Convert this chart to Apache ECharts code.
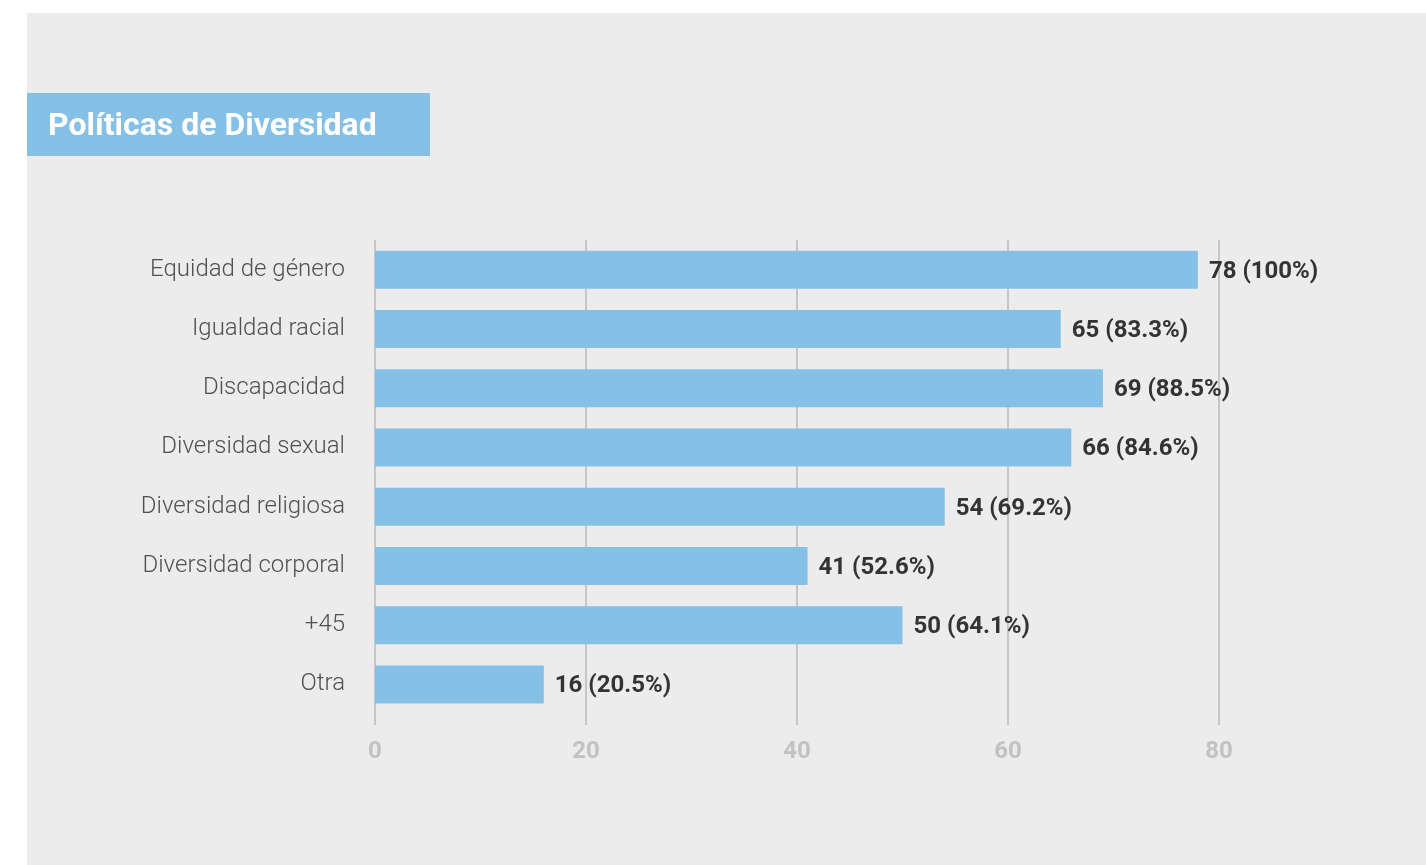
<!DOCTYPE html>
<html>
<head>
<meta charset="utf-8">
<script src="https://cdn.jsdelivr.net/npm/echarts@6/dist/echarts.min.js"></script>
<style>
  html, body { margin: 0; padding: 0; background: #ffffff; }
  #chart { width: 1426px; height: 865px; }
</style>
</head>
<body>
<div id="chart"></div>
<script>
// Diversity policies: number of organisations per policy and share of total
const categories = [
  'Equidad de género',
  'Igualdad racial',
  'Discapacidad',
  'Diversidad sexual',
  'Diversidad religiosa',
  'Diversidad corporal',
  '+45',
  'Otra'
];
const counts = [78, 65, 69, 66, 54, 41, 50, 16];
const shares = ['100%', '83.3%', '88.5%', '84.6%', '69.2%', '52.6%', '64.1%', '20.5%'];
const axisTicks = [0, 20, 40, 60, 80];

const FONT = 'Roboto, "Noto Sans", sans-serif';
const BAR = '#85c1e7';
const RULE = '#c6c6c6';

const chart = echarts.init(document.getElementById('chart'), null, { renderer: 'canvas' });

chart.setOption({
  backgroundColor: '#ffffff',
  animation: false,
  graphic: [
    { type: 'rect', z: -10, silent: true,
      shape: { x: 27, y: 13, width: 1399, height: 852 },
      style: { fill: '#ececec' } },
    { type: 'rect', z: -9, silent: true,
      shape: { x: 27, y: 93, width: 403, height: 63 },
      style: { fill: BAR } },
    { type: 'text', z: 10, silent: true,
      x: 48, y: 127,
      style: { text: 'Políticas de Diversidad', fill: '#ffffff',
               font: 'bold 32px ' + FONT, verticalAlign: 'middle', align: 'left' } }
  ],
  grid: { left: 375, right: 207, top: 240, bottom: 151, containLabel: false },
  xAxis: {
    type: 'value',
    min: axisTicks[0],
    max: axisTicks[axisTicks.length - 1],
    interval: axisTicks[1] - axisTicks[0],
    axisLine: { show: false },
    axisTick: { show: true, length: 11, lineStyle: { color: RULE, width: 2 } },
    splitLine: { show: true, lineStyle: { color: RULE, width: 2 } },
    axisLabel: { color: '#c2c2c2', fontFamily: FONT, fontWeight: 'bold', fontSize: 24, margin: 26 }
  },
  yAxis: {
    type: 'category',
    inverse: true,
    data: categories,
    axisLine: { show: false },
    axisTick: { show: false },
    axisLabel: { color: '#505050', fontFamily: FONT, fontWeight: 300, fontSize: 24, margin: 30 }
  },
  series: [{
    type: 'bar',
    data: counts,
    barWidth: 38,
    itemStyle: { color: BAR },
    label: {
      show: true,
      position: 'right',
      distance: 11,
      offset: [0, 2],
      color: '#333333',
      fontFamily: FONT,
      fontWeight: 'bold',
      fontSize: 24,
      formatter: p => counts[p.dataIndex] + ' (' + shares[p.dataIndex] + ')'
    },
    z: 3
  }]
});
</script>
</body>
</html>
